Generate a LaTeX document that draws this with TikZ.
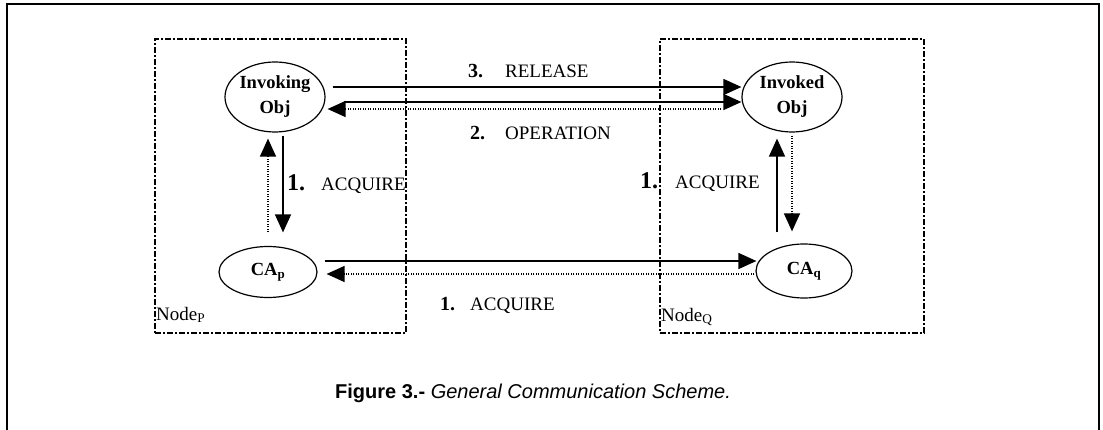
\documentclass[tikz,border=0pt]{standalone}
\usepackage{fontspec}
\setmainfont{Liberation Serif}
\setsansfont{Liberation Sans}
\usetikzlibrary{arrows.meta,shapes.geometric}
\begin{document}
\begin{tikzpicture}[x=1pt,y=-1pt,
  objshape/.style={draw,ellipse,line width=1.2pt,inner sep=0pt},
  objtext/.style={inner sep=0pt,font=\fontsize{18.5}{25}\selectfont\bfseries,align=center},
  zone/.style={draw,line width=1.7pt,dash pattern=on 6pt off 2.2pt on 1.6pt off 2.2pt,inner sep=0pt},
  solidarr/.style={line width=1.5pt,-{Triangle[length=18pt,width=16pt]}},
  dotarr/.style={line width=1.3pt,dash pattern=on 1.3pt off 1.2pt,-{Triangle[length=18pt,width=16pt]}},
  lbl/.style={anchor=base west,inner sep=0pt,font=\fontsize{19}{23}\selectfont},
  num/.style={anchor=base west,inner sep=0pt,font=\fontsize{20}{24}\selectfont\bfseries},
  bignum/.style={anchor=base west,inner sep=0pt,font=\fontsize{24}{28}\selectfont\bfseries}
]
\useasboundingbox (0,0) rectangle (1103,430);
\draw[line width=2.2pt] (7,430) -- (7,4) -- (1099,4) -- (1099,430);

% node zones
\node[zone,minimum width=251pt,minimum height=294pt] (zoneP) at (280.5,186) {};
\node[zone,minimum width=264pt,minimum height=294pt] (zoneQ) at (792,186) {};

% objects
\node[objshape,minimum width=100pt,minimum height=70pt] (inv) at (275,97) {};
\node[objtext] at (inv) {Invoking\\Obj};
\node[objshape,minimum width=100pt,minimum height=70pt] (ivd) at (792,97) {};
\node[objtext] at (ivd) {Invoked\\Obj};
\node[objshape,minimum width=98pt,minimum height=51pt] (cap) at (268,272) {};
\node[objtext] at (cap) {CA\textsubscript{p}};
\node[objshape,minimum width=96pt,minimum height=54pt] (caq) at (804,271) {};
\node[objtext] at (caq) {CA\textsubscript{q}};

% top horizontal connectors
\draw[solidarr] ([shift={(7,-10)}]inv.east) -- ([shift={(0,-10)}]ivd.west);
\draw[solidarr] ([shift={(18,5)}]inv.east) -- ([shift={(0,5)}]ivd.west);
\draw[dotarr] ([shift={(-20,12)}]ivd.west) -- ([shift={(2,12)}]inv.east);

% left vertical connectors
\draw[solidarr] ([shift={(8,3)}]inv.south) -- ([shift={(15,-13.5)}]cap.north);
\draw[dotarr] ([shift={(0,-13.5)}]cap.north) -- ([shift={(-7,6)}]inv.south);

% right vertical connectors
\draw[solidarr] ([shift={(-27,-11)}]caq.north) -- ([shift={(-15,6)}]ivd.south);
\draw[dotarr] ([shift={(0,3)}]ivd.south) -- ([shift={(-12,-12)}]caq.north);

% bottom horizontal connectors
\draw[solidarr] ([shift={(7,-11)}]cap.east) -- ([shift={(1,-10)}]caq.west);
\draw[dotarr] ([shift={(-1,3)}]caq.west) -- ([shift={(9,2)}]cap.east);

% labels
\node[num] (n3) at (468,78) {3.};
\node[lbl] (l3) at (505,78) {RELEASE};
\node[num] (n2) at (470,140) {2.};
\node[lbl] (l2) at (505,140) {OPERATION};
\node[bignum] (n1a) at (287,191) {1.};
\node[lbl] (l1a) at (321,191) {ACQUIRE};
\node[bignum] (n1b) at (640,189) {1.};
\node[lbl] (l1b) at (675,189) {ACQUIRE};
\node[num] (n1c) at (440,311) {1.};
\node[lbl] (l1c) at (470,311) {ACQUIRE};
\node[lbl] (np) at (156,320) {Node\textsubscript{P}};
\node[lbl] (nq) at (661,321) {Node\textsubscript{Q}};

% caption
\node[anchor=base west,inner sep=0pt,font=\sffamily\fontsize{20}{24}\selectfont] (cap3) at (335,398) {\textbf{Figure 3.-} \textit{General Communication Scheme.}};
\end{tikzpicture}
\end{document}
